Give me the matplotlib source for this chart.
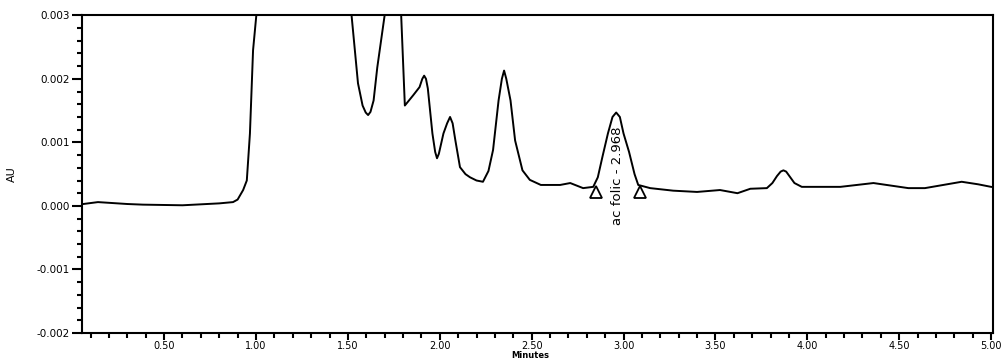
import numpy as np
import matplotlib.pyplot as plt
from matplotlib.ticker import MultipleLocator, FormatStrFormatter

# chromatogram trace (minutes, AU); values > 0.003 are off scale
t = [0.06, 0.14, 0.30, 0.385, 0.60, 0.80, 0.875, 0.90, 0.93, 0.95, 0.967, 0.984, 1.005,
     1.05, 1.45, 1.52, 1.555, 1.58, 1.597, 1.61, 1.623, 1.64, 1.66, 1.70, 1.74, 1.79,
     1.81, 1.855, 1.89, 1.905, 1.915, 1.925, 1.935, 1.96, 1.975, 1.985, 1.995, 2.02,
     2.04, 2.056, 2.07, 2.085, 2.11, 2.14, 2.165, 2.2, 2.235, 2.265, 2.29, 2.32, 2.338,
     2.35, 2.362, 2.385, 2.41, 2.45, 2.49, 2.55, 2.655, 2.71, 2.78, 2.835, 2.86, 2.885,
     2.915, 2.94, 2.96, 2.98, 3.0, 3.03, 3.06, 3.08, 3.145, 3.27, 3.40, 3.525, 3.62,
     3.69, 3.78, 3.81, 3.835, 3.855, 3.87, 3.885, 3.905, 3.93, 3.97, 4.18, 4.36, 4.55,
     4.64, 4.84, 4.93, 5.0]
au = [0.00003, 0.00006, 0.00003, 0.00002, 0.00001, 0.00004, 0.00006, 0.0001, 0.00025,
      0.0004, 0.00114, 0.00245, 0.0031, 0.006, 0.006, 0.0030, 0.00193, 0.00158, 0.00147,
      0.00143, 0.00148, 0.00166, 0.00218, 0.0030, 0.006, 0.0030, 0.00158, 0.00174,
      0.00187, 0.002, 0.00205, 0.002, 0.00185, 0.00114, 0.00085, 0.00075, 0.00082,
      0.00114, 0.0013, 0.0014, 0.0013, 0.00103, 0.00061, 0.0005, 0.00045, 0.0004,
      0.00038, 0.00055, 0.00088, 0.00166, 0.002, 0.00213, 0.002, 0.00166, 0.00103,
      0.00056, 0.00041, 0.00033, 0.00033, 0.00036, 0.00028, 0.0003, 0.00045, 0.00077,
      0.00114, 0.0014, 0.00147, 0.0014, 0.00114, 0.00085, 0.0005, 0.00033, 0.00028,
      0.00024, 0.00022, 0.00025, 0.0002, 0.00027, 0.00028, 0.00036, 0.00047, 0.00054,
      0.00056, 0.00054, 0.00046, 0.00036, 0.0003, 0.0003, 0.00036, 0.00028, 0.00028,
      0.00038, 0.00034, 0.0003]

# integration marks and peak label
peak_name = 'ac folic - 2.968'
peak_rt = 2.965
base_t = [2.85, 3.09]
base_au = [0.00022, 0.00022]

fig = plt.figure(figsize=(10.07, 3.61), dpi=100)
ax = fig.add_axes([0.0814, 0.0776, 0.9046, 0.880])

ax.plot(t, au, color='black', lw=1.4)
ax.plot(base_t, base_au, ls='none', marker='^', ms=9, mfc='white', mec='black', mew=1.3)
ax.text(peak_rt, 0.00047, peak_name, rotation=90, ha='center', va='center', fontsize=9.5)

ax.set_xlim(0.053, 5.01)
ax.set_ylim(-0.002, 0.003)
ax.xaxis.set_major_locator(MultipleLocator(0.5))
ax.xaxis.set_minor_locator(MultipleLocator(0.1))
ax.yaxis.set_major_locator(MultipleLocator(0.001))
ax.yaxis.set_minor_locator(MultipleLocator(0.0002))
ax.xaxis.set_major_formatter(FormatStrFormatter('%.2f'))
ax.yaxis.set_major_formatter(FormatStrFormatter('%.3f'))
ax.tick_params(which='major', direction='out', length=7, width=1.5, labelsize=7.5, pad=2)
ax.tick_params(axis='x', which='major', length=5, labelsize=7, pad=0.5)
ax.tick_params(which='minor', direction='out', length=3.5, width=1.5)
for s in ax.spines.values():
    s.set_linewidth(1.5)

ax.set_ylabel('AU', fontsize=8, labelpad=14)
fig.text(530 / 1007, 1.0 / 361, 'Minutes', ha='center', va='bottom', fontsize=6, fontweight='bold')

fig.savefig('out.png', dpi=100)
